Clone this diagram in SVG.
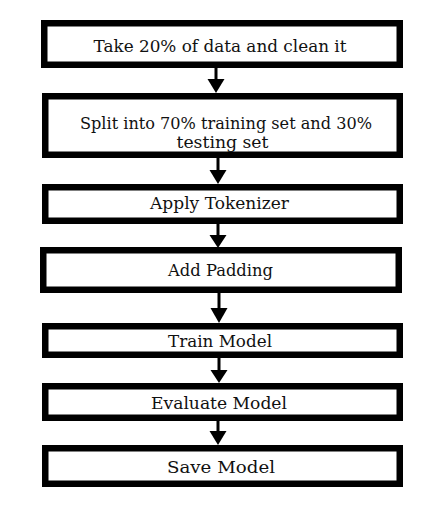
<svg xmlns="http://www.w3.org/2000/svg" width="444" height="505" viewBox="0 0 444 505">
<style>
.box{fill:#fff;stroke:#000;stroke-width:6.5}
.t{font-family:"DejaVu Serif","Liberation Serif",serif;font-size:17px;fill:#111;text-anchor:middle}
.ln{stroke:#000;stroke-width:3;fill:none}
.hd{fill:#000}
</style>
<rect width="444" height="505" fill="#fff"/>
<g id="n1"><rect class="box" x="44.25" y="23.25" width="355.5" height="41.5"/><text class="t" x="220" y="52" textLength="253" lengthAdjust="spacingAndGlyphs">Take 20% of data and clean it</text></g>
<g id="n2"><rect class="box" x="45.25" y="96.25" width="354.5" height="58.5"/><text class="t" x="226" y="129" textLength="292" lengthAdjust="spacingAndGlyphs">Split into 70% training set and 30%</text><text class="t" x="222.5" y="148" textLength="92" lengthAdjust="spacingAndGlyphs">testing set</text></g>
<g id="n3"><rect class="box" x="45.25" y="187.25" width="354.5" height="33.5"/><text class="t" x="219.5" y="209" textLength="139" lengthAdjust="spacingAndGlyphs">Apply Tokenizer</text></g>
<g id="n4"><rect class="box" x="43.25" y="250.25" width="355.5" height="39.5"/><text class="t" x="220.5" y="276" textLength="105" lengthAdjust="spacingAndGlyphs">Add Padding</text></g>
<g id="n5"><rect class="box" x="45.25" y="326.25" width="354.5" height="28.5"/><text class="t" x="220" y="347" textLength="104" lengthAdjust="spacingAndGlyphs">Train Model</text></g>
<g id="n6"><rect class="box" x="45.25" y="386.25" width="354.5" height="31.5"/><text class="t" x="219" y="409" textLength="136" lengthAdjust="spacingAndGlyphs">Evaluate Model</text></g>
<g id="n7"><rect class="box" x="45.25" y="448.25" width="354.5" height="35.5"/><text class="t" x="221" y="473" textLength="108" lengthAdjust="spacingAndGlyphs">Save Model</text></g>
<g id="connectors">
<line class="ln" x1="216" y1="68" x2="216" y2="80"/><polygon class="hd" points="207.5,79 224.5,79 216,93"/>
<line class="ln" x1="218" y1="158" x2="218" y2="171"/><polygon class="hd" points="209.5,170 226.5,170 218,184"/>
<line class="ln" x1="218" y1="224" x2="218" y2="236"/><polygon class="hd" points="209.5,235 226.5,235 218,248"/>
<line class="ln" x1="219" y1="293" x2="219" y2="309"/><polygon class="hd" points="210.5,308 227.5,308 219,323"/>
<line class="ln" x1="219" y1="358" x2="219" y2="371"/><polygon class="hd" points="210.5,370 227.5,370 219,383"/>
<line class="ln" x1="218" y1="421" x2="218" y2="432"/><polygon class="hd" points="209.5,431 226.5,431 218,445"/>
</g>
</svg>
